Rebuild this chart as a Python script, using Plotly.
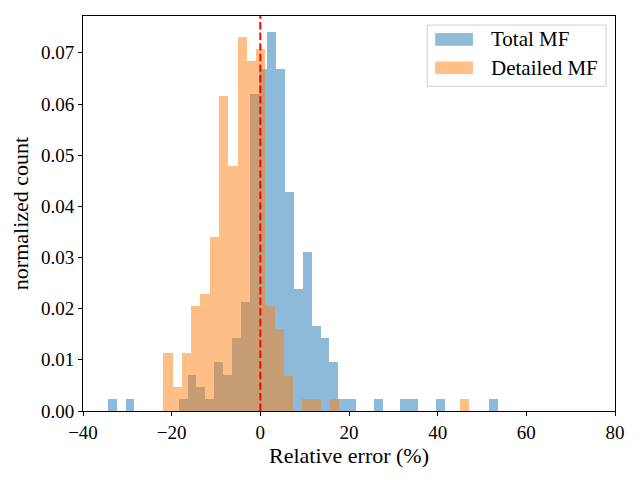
import numpy as np
import plotly.graph_objects as go

# histogram bins (left edge of first bin, bin width)
TOTAL_START, TOTAL_WIDTH = -34.4, 2.0
DETAIL_START, DETAIL_WIDTH = -21.87, 2.09

# normalized counts per bin
TOTAL_MF = [
    0.0024, 0, 0.0024, 0, 0, 0, 0, 0,
    0.0024, 0.0071, 0.0047, 0.0024, 0.0096, 0.0071, 0.0143, 0.0214,
    0.0620, 0.0668, 0.0740, 0.0668, 0.0429, 0.0238, 0.0310, 0.0167,
    0.0143, 0.0096, 0.0024, 0.0024, 0, 0, 0.0024, 0,
    0, 0.0024, 0.0024, 0, 0, 0.0024, 0, 0,
    0, 0, 0, 0.0024,
]
DETAILED_MF = [
    0.0114, 0.0046, 0.0114, 0.0206, 0.0228, 0.0341, 0.0616, 0.0479,
    0.0730, 0.0685, 0.0707, 0.0206, 0.0160, 0.0069, 0, 0.0023,
    0.0023, 0, 0.0023, 0, 0, 0, 0, 0,
    0, 0, 0, 0, 0, 0, 0, 0,
    0.0023,
]
SERIES = ["Total MF", "Detailed MF"]
COLORS = ["#1f77b4", "#ff7f0e"]

X_TICKS = [-40, -20, 0, 20, 40, 60, 80]
X_LABELS = ["\u221240", "\u221220", "0", "20", "40", "60", "80"]
Y_TICKS = [0.00, 0.01, 0.02, 0.03, 0.04, 0.05, 0.06, 0.07]

FONT = "Liberation Serif"

total_left = TOTAL_START + TOTAL_WIDTH * np.arange(len(TOTAL_MF))
detail_left = DETAIL_START + DETAIL_WIDTH * np.arange(len(DETAILED_MF))

fig = go.Figure()
fig.add_trace(go.Bar(
    x=total_left, y=TOTAL_MF, width=TOTAL_WIDTH, offset=0,
    name=SERIES[0], marker=dict(color=COLORS[0], line_width=0), opacity=0.5,
))
fig.add_trace(go.Bar(
    x=detail_left, y=DETAILED_MF, width=DETAIL_WIDTH, offset=0,
    name=SERIES[1], marker=dict(color=COLORS[1], line_width=0), opacity=0.5,
))

# zero-error reference line
fig.add_shape(type="line", x0=0, x1=0, y0=0, y1=1, yref="paper",
              line=dict(color="red", width=2, dash="7.4px,3.2px"))

# matplotlib-style legend: box, wide swatches, labels
fig.add_shape(type="rect", xref="paper", yref="paper",
              x0=0.647, x1=0.983, y0=0.822, y1=0.977,
              line=dict(color="#d0d0d0", width=1), fillcolor="rgba(255,255,255,0.8)")
for i, (name, col) in enumerate(zip(SERIES, COLORS)):
    yc = 0.941 - i * 0.072
    fig.add_shape(type="rect", xref="paper", yref="paper",
                  x0=0.662, x1=0.733, y0=yc - 0.016, y1=yc + 0.016,
                  line_width=0, fillcolor=col, opacity=0.5)
    fig.add_annotation(text=name, xref="paper", yref="paper", x=0.763, y=yc,
                       xanchor="left", yanchor="middle", showarrow=False,
                       font=dict(family=FONT, size=21, color="black"))

fig.update_layout(
    barmode="overlay", bargap=0,
    width=640, height=480,
    margin=dict(l=75, r=33, t=8, b=77),
    plot_bgcolor="white", paper_bgcolor="white",
    font=dict(family=FONT, size=18, color="black"),
    showlegend=False,
)
fig.update_xaxes(
    range=[-40, 80], tickvals=X_TICKS, ticktext=X_LABELS,
    showgrid=False, zeroline=False,
    showline=True, linecolor="black", linewidth=1, mirror=True,
    ticks="outside", ticklen=4, tickcolor="black",
    tickfont=dict(size=19),
    title=dict(text="Relative error (%)", standoff=5),
)
fig.update_yaxes(
    range=[0, 0.0772], tickvals=Y_TICKS, tickformat=".2f",
    showgrid=False, zeroline=False,
    showline=True, linecolor="black", linewidth=1, mirror=True,
    ticks="outside", ticklen=4, tickcolor="black",
    tickfont=dict(size=19),
    title=dict(text="normalized count", standoff=8),
)

fig.write_html("out.html")
